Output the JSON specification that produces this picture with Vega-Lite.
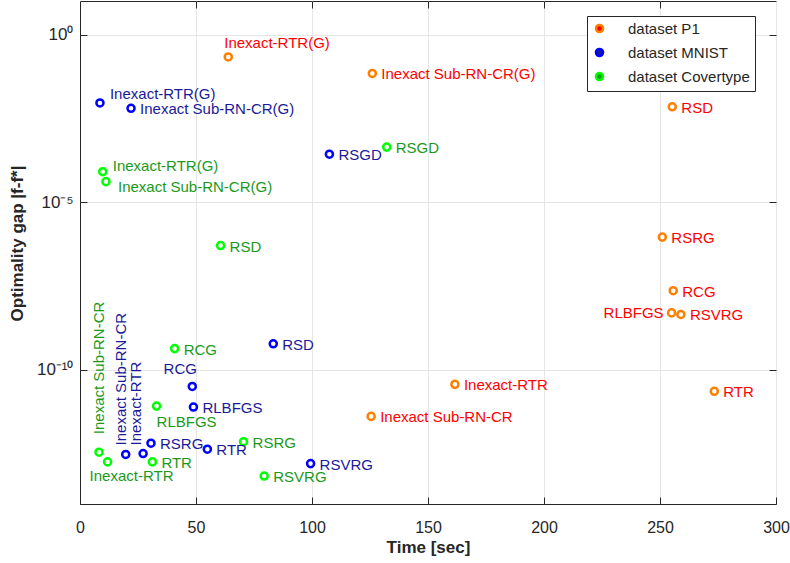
{
  "$schema": "https://vega.github.io/schema/vega-lite/v6.json",
  "width": 696,
  "height": 503,
  "autosize": {"type": "none"},
  "padding": {"left": 80, "top": 1, "right": 14, "bottom": 59},
  "background": "white",
  "config": {
    "font": "Liberation Sans",
    "view": {"stroke": "#262626", "strokeWidth": 1},
    "axis": {"domainColor": "#262626", "tickColor": "#262626", "labelColor": "#262626", "titleColor": "#262626", "gridColor": "#e6e6e6", "gridOpacity": 1, "labelFlush": false}
  },
  "data": {
    "values": [
      {"dataset": "dataset P1", "method": "Inexact-RTR(G)", "time": 63.9, "gap": 0.215},
      {"dataset": "dataset P1", "method": "Inexact Sub-RN-CR(G)", "time": 126.0, "gap": 0.069},
      {"dataset": "dataset P1", "method": "RSD", "time": 255.3, "gap": 0.0070},
      {"dataset": "dataset P1", "method": "RSRG", "time": 251.0, "gap": 9.1e-7},
      {"dataset": "dataset P1", "method": "RCG", "time": 255.7, "gap": 2.3e-8},
      {"dataset": "dataset P1", "method": "RLBFGS", "time": 255.0, "gap": 5.0e-9},
      {"dataset": "dataset P1", "method": "RSVRG", "time": 259.0, "gap": 4.5e-9},
      {"dataset": "dataset P1", "method": "Inexact-RTR", "time": 161.6, "gap": 3.7e-11},
      {"dataset": "dataset P1", "method": "RTR", "time": 273.4, "gap": 2.3e-11},
      {"dataset": "dataset P1", "method": "Inexact Sub-RN-CR", "time": 125.5, "gap": 4.1e-12},
      {"dataset": "dataset MNIST", "method": "Inexact-RTR(G)", "time": 8.6, "gap": 0.0091},
      {"dataset": "dataset MNIST", "method": "Inexact Sub-RN-CR(G)", "time": 22.0, "gap": 0.0063},
      {"dataset": "dataset MNIST", "method": "RSGD", "time": 107.5, "gap": 2.7e-4},
      {"dataset": "dataset MNIST", "method": "RSD", "time": 83.3, "gap": 6.0e-10},
      {"dataset": "dataset MNIST", "method": "RCG", "time": 48.4, "gap": 3.2e-11},
      {"dataset": "dataset MNIST", "method": "RLBFGS", "time": 48.9, "gap": 7.8e-12},
      {"dataset": "dataset MNIST", "method": "RSRG", "time": 30.6, "gap": 6.5e-13},
      {"dataset": "dataset MNIST", "method": "RTR", "time": 54.9, "gap": 4.3e-13},
      {"dataset": "dataset MNIST", "method": "Inexact-RTR", "time": 27.2, "gap": 3.2e-13},
      {"dataset": "dataset MNIST", "method": "Inexact Sub-RN-CR", "time": 19.7, "gap": 3.0e-13},
      {"dataset": "dataset MNIST", "method": "RSVRG", "time": 99.4, "gap": 1.6e-13},
      {"dataset": "dataset Covertype", "method": "Inexact-RTR(G)", "time": 9.8, "gap": 8.1e-5},
      {"dataset": "dataset Covertype", "method": "Inexact Sub-RN-CR(G)", "time": 11.2, "gap": 4.1e-5},
      {"dataset": "dataset Covertype", "method": "RSGD", "time": 132.2, "gap": 4.4e-4},
      {"dataset": "dataset Covertype", "method": "RSD", "time": 60.6, "gap": 5.1e-7},
      {"dataset": "dataset Covertype", "method": "RCG", "time": 40.8, "gap": 4.3e-10},
      {"dataset": "dataset Covertype", "method": "RLBFGS", "time": 33.0, "gap": 8.3e-12},
      {"dataset": "dataset Covertype", "method": "RSRG", "time": 70.5, "gap": 7.2e-13},
      {"dataset": "dataset Covertype", "method": "Inexact Sub-RN-CR", "time": 8.2, "gap": 3.5e-13},
      {"dataset": "dataset Covertype", "method": "Inexact-RTR", "time": 11.9, "gap": 1.8e-13},
      {"dataset": "dataset Covertype", "method": "RTR", "time": 31.2, "gap": 1.8e-13},
      {"dataset": "dataset Covertype", "method": "RSVRG", "time": 79.4, "gap": 6.8e-14}
    ]
  },
  "transform": [{"calculate": "datum.dataset + '|' + datum.method", "as": "key"}],
  "encoding": {
    "x": {"field": "time", "type": "quantitative", "scale": {"domain": [0, 300], "nice": false, "zero": false}},
    "y": {"field": "gap", "type": "quantitative", "scale": {"type": "log", "domain": [1e-14, 10], "nice": false}}
  },
  "resolve": {"axis": {"x": "independent", "y": "independent"}},
  "layer": [
    {
      "mark": {"type": "point", "filled": false, "strokeWidth": 2.5, "size": 50, "shape": "circle", "opacity": 1},
      "encoding": {
        "x": {"field": "time", "type": "quantitative", "axis": {"orient": "bottom", "values": [0, 50, 100, 150, 200, 250, 300], "grid": true, "tickSize": -7, "labelFontSize": 16, "labelPadding": 22, "labelFlush": false, "title": "Time [sec]", "titleFontSize": 17, "titleFontWeight": "bold", "titlePadding": 4, "domain": true}},
        "y": {"field": "gap", "type": "quantitative", "axis": {"orient": "left", "values": [1e-10, 1e-5, 1], "grid": true, "tickSize": -7, "labelFontSize": 17, "labelPadding": 14, "labelFlush": false, "labelExpr": "round(log(datum.value)/LN10) == 0 ? '10⁰' : round(log(datum.value)/LN10) == -5 ? '10⁻⁵' : '10⁻¹⁰'", "title": "Optimality gap |f-f*|", "titleFontSize": 17, "titleFontWeight": "bold", "titleX": -54, "titleY": 242, "domain": true}},
        "stroke": {"field": "dataset", "type": "nominal", "scale": {"domain": ["dataset P1", "dataset MNIST", "dataset Covertype"], "range": ["#ff8000", "#0000ff", "#00ff00"]}, "legend": {"title": null, "orient": "none", "legendX": 507, "legendY": 15, "strokeColor": "#262626", "fillColor": "white", "padding": 5, "labelOffset": 21, "labelFontSize": 15, "labelColor": "#262626", "symbolType": "circle", "symbolSize": 50, "symbolStrokeWidth": 2.5, "symbolFillColor": "white", "rowPadding": 5, "labelLimit": 300}}
      }
    },
    {
      "mark": {"type": "text", "align": "left", "baseline": "middle", "dx": 9, "dy": 1, "fontSize": 15},
      "transform": [{"filter": "indexof(['dataset P1|Inexact-RTR(G)','dataset P1|RLBFGS','dataset MNIST|RCG','dataset Covertype|RLBFGS','dataset Covertype|Inexact-RTR','dataset MNIST|Inexact-RTR(G)','dataset Covertype|Inexact-RTR(G)','dataset Covertype|Inexact Sub-RN-CR(G)','dataset Covertype|Inexact Sub-RN-CR','dataset MNIST|Inexact Sub-RN-CR','dataset MNIST|Inexact-RTR'], datum.key) < 0"}],
      "encoding": {
        "x": {"field": "time", "type": "quantitative", "axis": {"orient": "top", "values": [50, 100, 150, 200, 250], "grid": false, "labels": false, "title": null, "domain": false, "tickSize": -7}},
        "y": {"field": "gap", "type": "quantitative", "axis": {"orient": "right", "values": [1e-10, 1e-5, 1], "grid": false, "labels": false, "title": null, "domain": false, "tickSize": -7}},
        "text": {"field": "method"},
        "color": {"field": "dataset", "type": "nominal", "scale": {"domain": ["dataset P1", "dataset MNIST", "dataset Covertype"], "range": ["#ff0000", "#1a1a99", "#1a991a"]}, "legend": null}
      }
    },
    {
      "mark": {"type": "text", "align": "left", "baseline": "middle", "dx": -4, "dy": -14, "fontSize": 15},
      "transform": [{"filter": "datum.key == 'dataset P1|Inexact-RTR(G)'"}],
      "encoding": {"x": {"field": "time", "type": "quantitative", "axis": null}, "y": {"field": "gap", "type": "quantitative", "axis": null}, "text": {"field": "method"}, "color": {"field": "dataset", "type": "nominal", "legend": null}}
    },
    {
      "mark": {"type": "text", "align": "right", "baseline": "middle", "dx": -8, "dy": 0, "fontSize": 15},
      "transform": [{"filter": "datum.key == 'dataset P1|RLBFGS'"}],
      "encoding": {"x": {"field": "time", "type": "quantitative", "axis": null}, "y": {"field": "gap", "type": "quantitative", "axis": null}, "text": {"field": "method"}, "color": {"field": "dataset", "type": "nominal", "legend": null}}
    },
    {
      "mark": {"type": "text", "align": "center", "baseline": "middle", "dx": -12, "dy": -17, "fontSize": 15},
      "transform": [{"filter": "datum.key == 'dataset MNIST|RCG'"}],
      "encoding": {"x": {"field": "time", "type": "quantitative", "axis": null}, "y": {"field": "gap", "type": "quantitative", "axis": null}, "text": {"field": "method"}, "color": {"field": "dataset", "type": "nominal", "legend": null}}
    },
    {
      "mark": {"type": "text", "align": "left", "baseline": "middle", "dx": 0, "dy": 16, "fontSize": 15},
      "transform": [{"filter": "datum.key == 'dataset Covertype|RLBFGS'"}],
      "encoding": {"x": {"field": "time", "type": "quantitative", "axis": null}, "y": {"field": "gap", "type": "quantitative", "axis": null}, "text": {"field": "method"}, "color": {"field": "dataset", "type": "nominal", "legend": null}}
    },
    {
      "mark": {"type": "text", "align": "left", "baseline": "middle", "dx": -18, "dy": 14, "fontSize": 15},
      "transform": [{"filter": "datum.key == 'dataset Covertype|Inexact-RTR'"}],
      "encoding": {"x": {"field": "time", "type": "quantitative", "axis": null}, "y": {"field": "gap", "type": "quantitative", "axis": null}, "text": {"field": "method"}, "color": {"field": "dataset", "type": "nominal", "legend": null}}
    },
    {
      "mark": {"type": "text", "align": "left", "baseline": "middle", "dx": 10, "dy": -9, "fontSize": 15},
      "transform": [{"filter": "datum.key == 'dataset MNIST|Inexact-RTR(G)'"}],
      "encoding": {"x": {"field": "time", "type": "quantitative", "axis": null}, "y": {"field": "gap", "type": "quantitative", "axis": null}, "text": {"field": "method"}, "color": {"field": "dataset", "type": "nominal", "legend": null}}
    },
    {
      "mark": {"type": "text", "align": "left", "baseline": "middle", "dx": 10, "dy": -6, "fontSize": 15},
      "transform": [{"filter": "datum.key == 'dataset Covertype|Inexact-RTR(G)'"}],
      "encoding": {"x": {"field": "time", "type": "quantitative", "axis": null}, "y": {"field": "gap", "type": "quantitative", "axis": null}, "text": {"field": "method"}, "color": {"field": "dataset", "type": "nominal", "legend": null}}
    },
    {
      "mark": {"type": "text", "align": "left", "baseline": "middle", "dx": 12, "dy": 5, "fontSize": 15},
      "transform": [{"filter": "datum.key == 'dataset Covertype|Inexact Sub-RN-CR(G)'"}],
      "encoding": {"x": {"field": "time", "type": "quantitative", "axis": null}, "y": {"field": "gap", "type": "quantitative", "axis": null}, "text": {"field": "method"}, "color": {"field": "dataset", "type": "nominal", "legend": null}}
    },
    {
      "mark": {"type": "text", "align": "left", "baseline": "middle", "angle": 270, "dx": 18, "dy": 0, "fontSize": 15},
      "transform": [{"filter": "datum.key == 'dataset Covertype|Inexact Sub-RN-CR'"}],
      "encoding": {"x": {"field": "time", "type": "quantitative", "axis": null}, "y": {"field": "gap", "type": "quantitative", "axis": null}, "text": {"field": "method"}, "color": {"field": "dataset", "type": "nominal", "legend": null}}
    },
    {
      "mark": {"type": "text", "align": "left", "baseline": "middle", "angle": 270, "dx": 9, "dy": -5, "fontSize": 15},
      "transform": [{"filter": "datum.key == 'dataset MNIST|Inexact Sub-RN-CR'"}],
      "encoding": {"x": {"field": "time", "type": "quantitative", "axis": null}, "y": {"field": "gap", "type": "quantitative", "axis": null}, "text": {"field": "method"}, "color": {"field": "dataset", "type": "nominal", "legend": null}}
    },
    {
      "mark": {"type": "text", "align": "left", "baseline": "middle", "angle": 270, "dx": 8, "dy": -7, "fontSize": 15},
      "transform": [{"filter": "datum.key == 'dataset MNIST|Inexact-RTR'"}],
      "encoding": {"x": {"field": "time", "type": "quantitative", "axis": null}, "y": {"field": "gap", "type": "quantitative", "axis": null}, "text": {"field": "method"}, "color": {"field": "dataset", "type": "nominal", "legend": null}}
    }
  ]
}
